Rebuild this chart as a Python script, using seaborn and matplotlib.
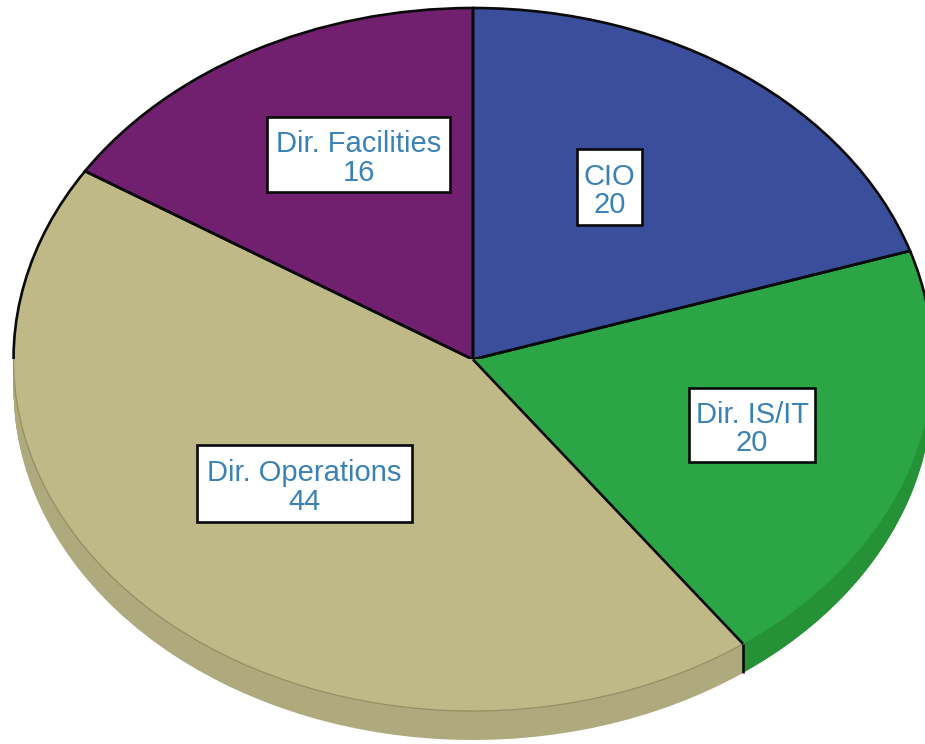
import numpy as np
import matplotlib
matplotlib.use("Agg")
import matplotlib.pyplot as plt
from matplotlib.patches import Rectangle
import seaborn as sns

# values, clockwise from 12 o'clock
roles = ["CIO", "Dir. IS/IT", "Dir. Operations", "Dir. Facilities"]
counts = [20, 20, 44, 16]
top_colors = ["#3A4E9C", "#2BA546", "#BFB988", "#71206F"]
side_colors = ["#2E3F7E", "#259238", "#AEAA7E", "#5A1A59"]

# label boxes in pixels: left, top, right, bottom
label_boxes = [(577, 149, 642, 225), (689, 388, 815, 462),
               (197, 445, 412, 522), (267, 117, 450, 192)]

W, H = 925, 744
CX, CY, RX, RY = 473, 359.5, 459.5, 351.5
DEPTH = 29

sns.set_theme(style="white")
plt.rcParams["font.family"] = ["Liberation Sans", "DejaVu Sans"]


def px(x, y):
    # pixel position to pie units
    return (x - CX) / RX, (CY - y) / RY


fig = plt.figure(figsize=(W / 100, H / 100), dpi=100)
ax = fig.add_axes([0, 0, 1, 1])

# side of the disc, stacked pies going down
for d in range(DEPTH, 0, -1):
    ax.pie(counts, colors=sns.color_palette(side_colors), startangle=90, counterclock=False,
           center=(0, -d / RY), radius=1, wedgeprops={"linewidth": 0})

# top face
faces, _ = ax.pie(counts, colors=sns.color_palette(top_colors), startangle=90, counterclock=False,
                  radius=1, wedgeprops={"linewidth": 0})
# thin brown rim on the tan slice
faces[2].set_edgecolor("#958F62")
faces[2].set_linewidth(0.9)

# black outline, only on the upper half
outline, _ = ax.pie(counts, startangle=90, counterclock=False, radius=1,
                    wedgeprops={"edgecolor": "#0a0a0a", "linewidth": 1.9})
for w in outline:
    w.set_facecolor("none")
    w.set_clip_on(True)
    w.set_clip_path(Rectangle((-2, 0), 4, 2, transform=ax.transData))

# the one slice border in the lower half, and the notch below it
ang = np.radians(360 * (counts[0] + counts[1]) / sum(counts))
ex, ey = np.sin(ang), np.cos(ang)
ax.plot([0, ex], [0, ey], color="#0a0a0a", lw=1.9, solid_capstyle="butt")
ax.plot([ex, ex], [ey, ey - DEPTH / RY], color="#0a0a0a", lw=1.9, solid_capstyle="butt")

# labels, text sits a little below the middle of the box
for role, n, (l, t, r, b) in zip(roles, counts, label_boxes):
    x0, y0 = px(l, b)
    x1, y1 = px(r, t)
    ax.add_patch(Rectangle((x0, y0), x1 - x0, y1 - y0, facecolor="white",
                           edgecolor="#0a0a0a", linewidth=1.9, zorder=5))
    tx, ty = px((l + r) / 2, (t + b) / 2 + 4)
    ax.text(tx, ty, f"{role}\n{n}", ha="center", va="center",
            color="#3A82B6", fontsize=21, linespacing=1.02, zorder=6)

ax.set_aspect("auto")
ax.set_xlim(px(0, 0)[0], px(W, 0)[0])
ax.set_ylim(px(0, H)[1], px(0, 0)[1])
ax.axis("off")

fig.savefig("out.png", dpi=100, facecolor="white")
